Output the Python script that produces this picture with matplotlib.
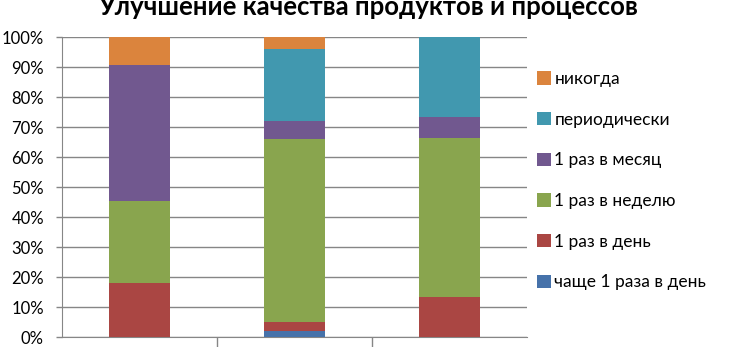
import matplotlib.pyplot as plt
import numpy as np

# Data (share of answers, %)
groups = ["Группа 1", "Группа 2", "Группа 3"]
labels = ["чаще 1 раза в день", "1 раз в день", "1 раз в неделю",
          "1 раз в месяц", "периодически", "никогда"]
more_than_daily = [0, 2, 0]
daily = [18.2, 3, 13.3]
weekly = [27.3, 61, 53.3]
monthly = [45.4, 6, 6.7]
periodic = [0, 24, 26.7]
never = [9.1, 4, 0]

colors = ["#4672AA", "#AA4643", "#89A54E", "#71588F", "#4198AF", "#DB843D"]

plt.rcParams["font.family"] = ["Lato", "DejaVu Sans"]

fig = plt.figure(figsize=(7.37, 3.47), dpi=100)
ax = fig.add_axes([62 / 737, 9.7 / 347, 465 / 737, 300 / 347])

series = [more_than_daily, daily, weekly, monthly, periodic, never]
x = np.arange(len(groups))
bottom = np.zeros(len(groups))
handles = []
for vals, col, lab in zip(series, colors, labels):
    b = ax.bar(x, vals, bottom=bottom, width=0.39, color=col, label=lab, zorder=3)
    handles.append(b)
    bottom += np.array(vals)

ax.set_xlim(-0.5, 2.5)
ax.set_ylim(0, 100)
ax.set_yticks(range(0, 101, 10))
ax.set_yticklabels([f"{v}%" for v in range(0, 101, 10)], fontsize=12)
ax.yaxis.grid(True, color="#868686", linewidth=1, zorder=0)
ax.set_xticks([0.5, 1.5])
ax.set_xticklabels([])
ax.tick_params(axis="x", length=12, color="#868686", width=1)
ax.tick_params(axis="y", length=4, color="#868686", width=1, pad=9)
for s in ["top", "right"]:
    ax.spines[s].set_visible(False)
for s in ["left", "bottom"]:
    ax.spines[s].set_color("#868686")

# title is clipped by the top edge, as in the source image
fig.text(0.5, 1 - 15 / 347, "Улучшение качества продуктов и процессов",
         ha="center", va="baseline", fontsize=18.5, fontweight="bold")

fig.legend(handles[::-1], labels[::-1], loc="upper left",
           bbox_to_anchor=(530 / 737, 1 - 64 / 347), frameon=False,
           fontsize=12.5, handlelength=0.8, handleheight=0.8, handletextpad=0.2,
           labelspacing=1.42, borderaxespad=0)

fig.savefig("out.png", dpi=100)
